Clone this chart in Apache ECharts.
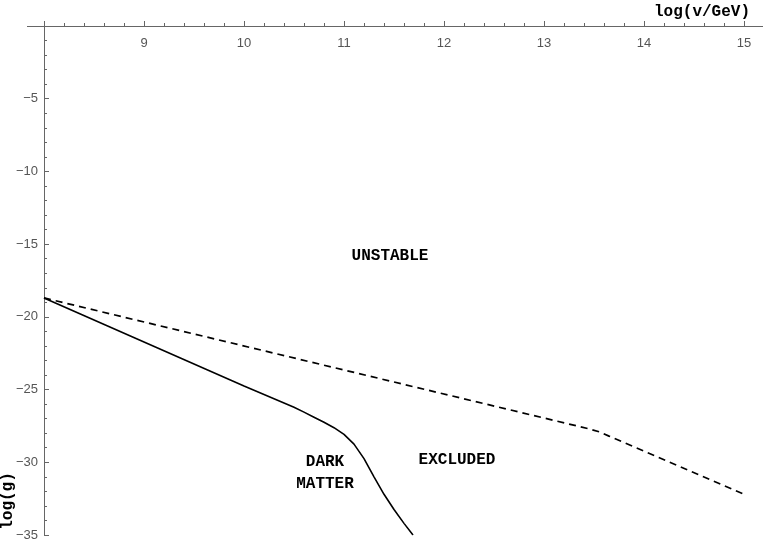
<!DOCTYPE html>
<html>
<head>
<meta charset="utf-8">
<title>log(g) vs log(v/GeV)</title>
<script src="https://cdn.jsdelivr.net/npm/echarts@6/dist/echarts.min.js"></script>
<style>
  html, body { margin: 0; padding: 0; background: #fff; }
  #chart { width: 763px; height: 545px; }
</style>
</head>
<body>
<div id="chart"></div>
<script>
// curve data: [log(v/GeV), log(g)]
const darkMatterLine = [
  [8, -18.7], [9, -21.73], [10, -24.76], [10.5, -26.22], [10.6, -26.55],
  [10.7, -26.9], [10.8, -27.25], [10.9, -27.62], [11.0, -28.08], [11.1, -28.75],
  [11.2, -29.75], [11.3, -31.0], [11.4, -32.2], [11.5, -33.25], [11.6, -34.2],
  [11.69, -35]
]
const unstableLine = [
  [8, -18.7], [13.45, -27.7], [13.56, -27.92], [13.65, -28.2], [15, -32.2]
]
const xTicks = [9, 10, 11, 12, 13, 14, 15]

const chart = echarts.init(document.getElementById('chart'))

const labelFont = 'Liberation Sans, Arial, sans-serif'
const monoFont = 'Liberation Mono, Courier New, monospace'
const axisColor = '#666'

const option = {
  animation: false,
  grid: { left: 44, right: 19, top: 26, bottom: 10 },
  xAxis: {
    type: 'value',
    position: 'top',
    min: 8,
    max: 15,
    interval: 1,
    splitLine: { show: false },
    axisLine: { onZero: false, lineStyle: { color: axisColor, width: 1 } },
    axisTick: { inside: false, length: 5, lineStyle: { color: axisColor } },
    minorTick: { show: true, splitNumber: 5, length: 3, lineStyle: { color: axisColor } },
    axisLabel: {
      inside: true,
      margin: 11,
      color: '#555',
      fontSize: 13,
      fontFamily: labelFont,
      formatter: (v) => (xTicks.includes(v) ? String(v) : '')
    }
  },
  yAxis: {
    type: 'value',
    position: 'left',
    min: -35,
    max: 0,
    interval: 5,
    splitLine: { show: false },
    axisLine: { onZero: false, lineStyle: { color: axisColor, width: 1 } },
    axisTick: { inside: true, length: 5, lineStyle: { color: axisColor } },
    minorTick: { show: true, splitNumber: 5, length: 3, lineStyle: { color: axisColor } },
    axisLabel: {
      margin: 6,
      color: '#555',
      fontSize: 13,
      fontFamily: labelFont,
      formatter: (v) => (v === 0 ? '' : String(v).replace('-', '\u2212'))
    }
  },
  series: [
    {
      name: 'dark matter',
      type: 'line',
      data: darkMatterLine,
      showSymbol: false,
      lineStyle: { color: '#000', width: 1.6 }
    },
    {
      name: 'unstable',
      type: 'line',
      data: unstableLine,
      showSymbol: false,
      lineStyle: { color: '#000', width: 1.7, type: [7, 5] }
    }
  ],
  graphic: [
    // axis line continues past the axes crossing
    { type: 'line', shape: { x1: 27, y1: 26.5, x2: 44, y2: 26.5 }, style: { stroke: axisColor, lineWidth: 1 } },
    { type: 'line', shape: { x1: 744, y1: 26.5, x2: 763, y2: 26.5 }, style: { stroke: axisColor, lineWidth: 1 } },
    {
      type: 'text', x: 750, y: 12,
      style: { text: 'log(v/GeV)', font: 'bold 16px ' + monoFont, fill: '#000', align: 'right', verticalAlign: 'middle' }
    },
    {
      type: 'text', x: 8, y: 501, rotation: Math.PI / 2,
      style: { text: 'log(g)', font: 'bold 16px ' + monoFont, fill: '#000', align: 'center', verticalAlign: 'middle' }
    },
    {
      type: 'text', x: 390, y: 256,
      style: { text: 'UNSTABLE', font: 'bold 16px ' + monoFont, fill: '#000', align: 'center', verticalAlign: 'middle' }
    },
    {
      type: 'text', x: 457, y: 460,
      style: { text: 'EXCLUDED', font: 'bold 16px ' + monoFont, fill: '#000', align: 'center', verticalAlign: 'middle' }
    },
    {
      type: 'text', x: 325, y: 462,
      style: { text: 'DARK', font: 'bold 16px ' + monoFont, fill: '#000', align: 'center', verticalAlign: 'middle' }
    },
    {
      type: 'text', x: 325, y: 484,
      style: { text: 'MATTER', font: 'bold 16px ' + monoFont, fill: '#000', align: 'center', verticalAlign: 'middle' }
    }
  ]
}

chart.setOption(option)
</script>
</body>
</html>
